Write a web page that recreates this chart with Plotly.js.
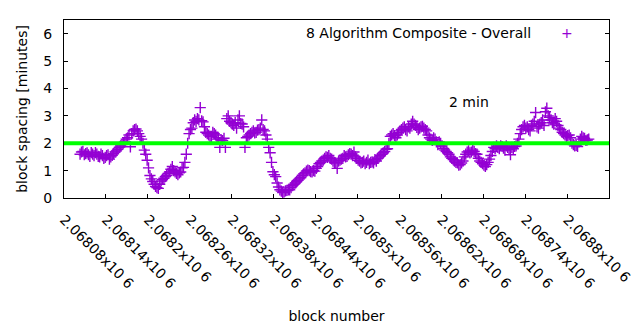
<!DOCTYPE html>
<html>
<head>
<meta charset="utf-8">
<script src="https://cdn.plot.ly/plotly-3.0.1.min.js"></script>
<style>
  html, body { margin: 0; padding: 0; background: #ffffff; }
  #chart { width: 640px; height: 330px; }
</style>
</head>
<body>
<div id="chart"></div>
<script>
// ---- data ----
const seriesName = "8 Algorithm Composite - Overall";
const firstBlock = 2068103;
const blockStep = 4;
// readings at blocks firstBlock + 4*i
const spacingMinutes = [
  1.6,1.7,1.62,1.58,1.66,1.55,1.6,1.5,1.55,1.48,
  1.58,1.5,1.62,1.72,1.85,1.95,2.05,2.2,1.87,2.45,
  2.52,2.35,2.15,1.75,1.38,0.82,0.6,0.42,0.35,0.62,
  0.72,0.82,0.95,1.15,0.95,0.85,0.95,1.12,1.6,2.35,
  2.55,2.85,2.9,3.3,2.78,2.4,2.3,2.25,2.35,2.15,
  1.85,2.1,1.85,3.0,2.75,2.65,2.55,3.0,2.7,1.85,
  2.25,2.35,2.45,2.4,2.5,2.85,2.45,2.15,1.65,0.96,
  0.78,0.4,0.25,0.22,0.28,0.3,0.45,0.55,0.65,0.75,
  0.88,0.98,1.0,0.95,0.98,1.15,1.3,1.38,1.5,1.55,
  1.42,1.3,1.08,1.38,1.45,1.5,1.58,1.6,1.68,1.45,
  1.35,1.3,1.25,1.38,1.3,1.28,1.35,1.5,1.6,1.7,
  1.8,2.25,2.35,2.2,2.38,2.5,2.6,2.45,2.55,2.8,
  2.65,2.5,2.6,2.55,2.45,2.2,2.1,2.15,1.95,2.0,
  1.8,1.7,1.6,1.45,1.35,1.28,1.22,1.35,1.6,1.72,
  1.68,1.7,1.6,1.35,1.25,1.15,1.3,1.55,1.85,1.9,
  1.8,1.88,1.75,1.85,1.58,1.8,1.9,2.15,2.5,2.65,
  2.6,2.45,2.7,3.12,2.55,2.75,2.65,3.28,2.95,2.75,
  2.9,2.65,2.5,2.35,2.25,2.3,2.0,1.9,1.88,2.15,
  2.2,2.1,2.15
];
// readings at blocks firstBlock + 2 + 4*i (in between)
const spacingMinutesMid = [
  1.68,1.58,1.65,1.52,1.6,1.66,1.52,1.6,1.45,1.55,
  1.42,1.56,1.68,1.78,1.9,2.0,2.15,2.3,2.35,2.5,
  2.45,2.25,2.0,1.6,1.1,0.7,0.5,0.38,0.5,0.68,
  0.78,0.9,1.05,1.0,0.9,0.92,1.1,1.3,2.0,2.5,
  2.75,2.8,2.85,2.82,2.6,2.35,2.25,2.4,2.3,2.2,
  2.12,2.18,2.9,2.8,2.7,2.75,2.85,2.72,2.6,2.2,
  2.3,2.4,2.38,2.48,2.55,2.5,2.3,1.85,1.3,0.85,
  0.55,0.3,0.2,0.26,0.3,0.38,0.5,0.6,0.7,0.82,
  0.92,1.02,0.96,1.0,1.08,1.25,1.35,1.45,1.48,1.45,
  1.35,1.28,1.35,1.42,1.55,1.52,1.62,1.55,1.5,1.38,
  1.28,1.35,1.3,1.25,1.32,1.4,1.45,1.55,1.65,1.78,
  2.0,2.3,2.28,2.3,2.45,2.55,2.5,2.6,2.7,2.7,
  2.58,2.55,2.62,2.5,2.3,2.15,2.2,2.05,2.05,1.9,
  1.75,1.65,1.5,1.4,1.3,1.2,1.28,1.5,1.68,1.65,
  1.75,1.62,1.45,1.3,1.2,1.22,1.42,1.7,1.8,1.85,
  1.9,1.82,1.9,1.78,1.85,1.88,2.0,2.35,2.6,2.55,
  2.5,2.65,2.8,2.6,2.7,2.85,3.15,3.0,2.85,2.7,
  2.8,2.55,2.4,2.3,2.28,2.2,1.95,1.92,2.05,2.25,
  2.18,2.12
];
const targetMinutes = 2;
const targetLabel = "2 min";
const targetLabelBlock = 2068628;
const targetLabelY = 3.5;
const xTickValues = [2068080,2068140,2068200,2068260,2068320,2068380,2068440,
                     2068500,2068560,2068620,2068680,2068740,2068800,2068860];
const xTickLabels = ["2.06808x10 6","2.06814x10 6","2.0682x10 6","2.06826x10 6",
                     "2.06832x10 6","2.06838x10 6","2.06844x10 6","2.0685x10 6",
                     "2.06856x10 6","2.06862x10 6","2.06868x10 6","2.06874x10 6",
                     "2.0688x10 6","2.06886x10 6"];
const xRange = [2068080, 2068860];
const yRange = [0, 6.5];

// ---- build ----
const xs = [], ys = [];
spacingMinutes.forEach((v, i) => {
  xs.push(firstBlock + i * blockStep); ys.push(v);
  if (i < spacingMinutesMid.length) {
    xs.push(firstBlock + 2 + i * blockStep); ys.push(spacingMinutesMid[i]);
  }
});
const purple = "#9400d3";
const font = "DejaVu Sans, Liberation Sans, Arial, sans-serif";

const trace = {
  type: "scatter",
  mode: "markers",
  x: xs,
  y: ys,
  name: seriesName,
  marker: { symbol: "cross-thin-open", size: 8, color: purple,
            line: { width: 1.4, color: purple } },
  showlegend: false,
  hoverinfo: "x+y"
};

const layout = {
  width: 640, height: 330,
  margin: { l: 64, r: 31, t: 20, b: 132, pad: 0 },
  paper_bgcolor: "#ffffff",
  plot_bgcolor: "#ffffff",
  font: { family: font, size: 14, color: "#000000" },
  showlegend: false,
  xaxis: {
    range: xRange,
    tickmode: "array",
    tickvals: xTickValues,
    ticktext: xTickLabels,
    tickangle: 45,
    ticks: "inside", ticklen: 4, tickcolor: "#000",
    showline: true, linecolor: "#000", linewidth: 1, mirror: true,
    showgrid: false, zeroline: false,
    ticklabelstandoff: 7,
    tickfont: { family: font, size: 14, color: "#000" },
    title: { text: "block number", font: { family: font, size: 14, color: "#000" }, standoff: 20 }
  },
  yaxis: {
    range: yRange,
    tickmode: "linear", tick0: 0, dtick: 1,
    ticks: "inside", ticklen: 4, tickcolor: "#000",
    showline: true, linecolor: "#000", linewidth: 1, mirror: "ticks",
    showgrid: false, zeroline: false,
    ticklabelstandoff: 8,
    tickfont: { family: font, size: 14, color: "#000" },
    title: { text: "block spacing [minutes]", font: { family: font, size: 14, color: "#000" }, standoff: 12 }
  },
  shapes: [{
    type: "line", xref: "paper", x0: 0, x1: 1, yref: "y", y0: targetMinutes, y1: targetMinutes,
    line: { color: "#00ff00", width: 4 }, layer: "above"
  }],
  annotations: [
    { xref: "x", yref: "y", x: targetLabelBlock, y: targetLabelY, text: targetLabel,
      showarrow: false, xanchor: "left", yanchor: "middle",
      font: { family: font, size: 14, color: "#000" } },
    { xref: "paper", yref: "paper", x: (533 - 64) / 545, y: (198 - 33) / 178, text: seriesName,
      showarrow: false, xanchor: "right", yanchor: "middle",
      font: { family: font, size: 14, color: "#000" } },
    { xref: "paper", yref: "paper", x: (567 - 64) / 545, y: (198 - 33) / 178, text: "+",
      showarrow: false, xanchor: "center", yanchor: "middle",
      font: { family: font, size: 14, color: purple } }
  ]
};

Plotly.newPlot("chart", [trace], layout, { displayModeBar: false, staticPlot: true });
</script>
</body>
</html>
